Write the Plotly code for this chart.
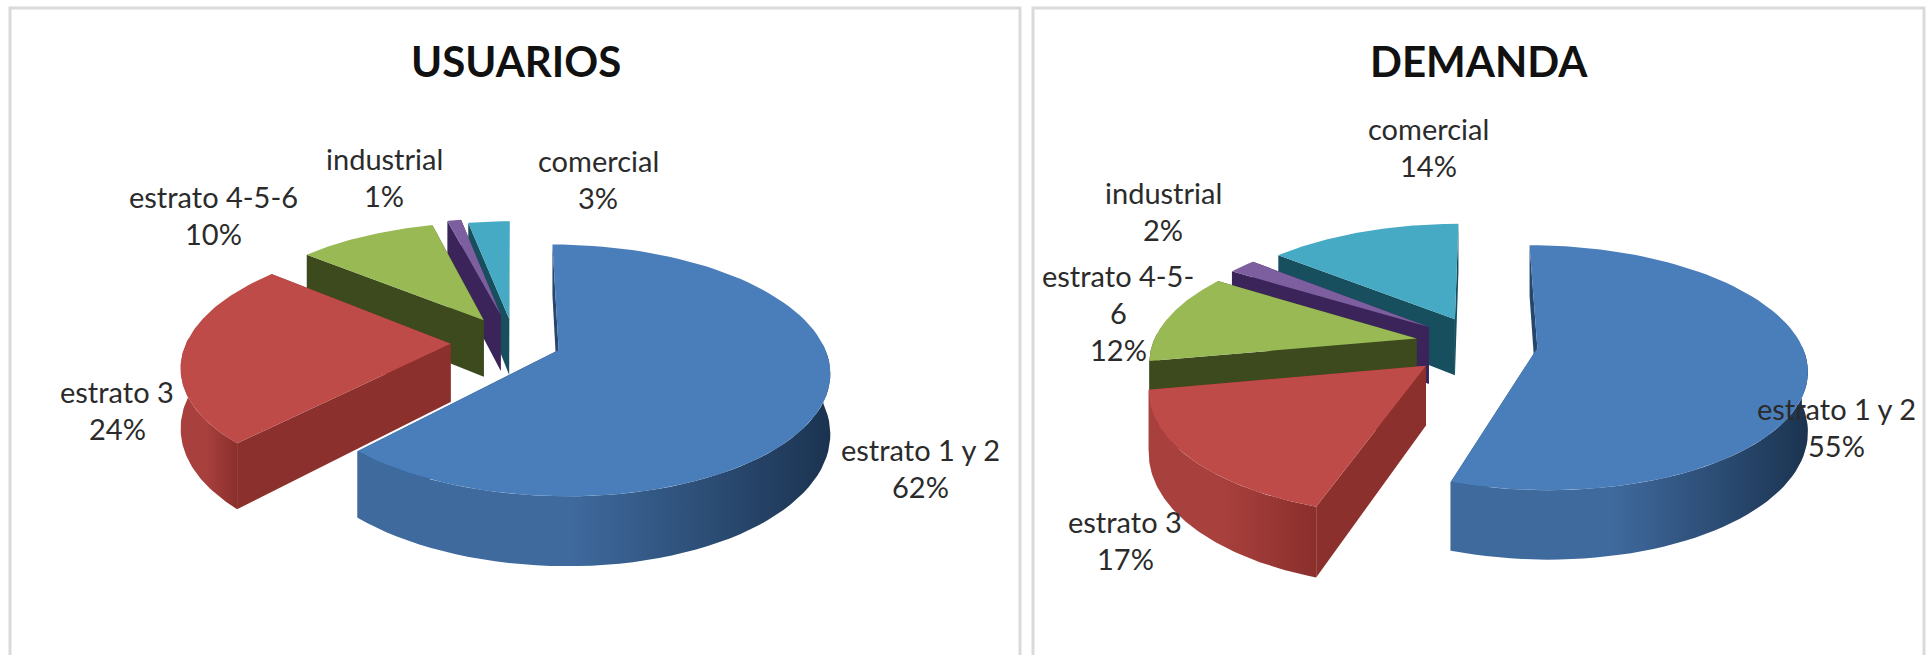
import numpy as np
import plotly.graph_objects as go

categories = ["estrato 1 y 2", "estrato 3", "estrato 4-5-6", "industrial", "comercial"]
usuarios = [62, 24, 10, 1, 3]
demanda = [55, 17, 12, 2, 14]
titles = ["USUARIOS", "DEMANDA"]

TOP = ["#4A7EBB", "#BE4B48", "#98B954", "#7D5FA0", "#46AAC5"]
WALL = ["#27466E", "#8C302D", "#3C4A1E", "#3A2459", "#174F5F"]
OUTER_L = ["#3F6A9E", "#A8403D", "#3C4A1E", "#4F3A70", "#2A7A90"]
OUTER_R = ["#1B3350", "#8A2F2C", "#3C4A1E", "#3A2459", "#174F5F"]

FONT = "Lato"
W, H = 1927, 655


def project(X, Y, z, g):
    d = 1 + g["k"] * Y
    return g["cx"] + g["B"] * X / d, g["cy"] - g["A"] * Y / d + z * g["depth"] / d


def slice_parts(start, stop, pull, g):
    m = (start + stop) / 2
    ox, oy = pull * np.sin(m), pull * np.cos(m)
    a = np.linspace(start, stop, 90)
    rimx, rimy = ox + np.sin(a), oy + np.cos(a)
    tx, ty = project(np.r_[ox, rimx], np.r_[oy, rimy], 0, g)
    parts = []
    for ang in (start, stop):
        ex, ey = ox + np.sin(ang), oy + np.cos(ang)
        px = np.array([ox, ex, ex, ox])
        py = np.array([oy, ey, ey, oy])
        sx, sy = project(px, py, np.array([0, 0, 1, 1]), g)
        parts.append(("wall", sx, sy))
    vis = np.cos(a) <= 0.05
    if vis.any():
        ax, ay = rimx[vis], rimy[vis]
        x0, y0 = project(ax, ay, 0, g)
        x1, y1 = project(ax, ay, 1, g)
        parts.append(("outer", np.r_[x0, x1[::-1]], np.r_[y0, y1[::-1]]))
    parts.append(("top", tx, ty))
    return parts


def add_pie(fig, values, g, pulls, order):
    v = np.array(values, float)
    edges = np.r_[0, np.cumsum(v)] / v.sum() * 2 * np.pi
    for i in order:
        for kind, x, y in slice_parts(edges[i], edges[i + 1], pulls[i], g):
            kw = dict(x=np.r_[x, x[0]], y=np.r_[y, y[0]], mode="lines", fill="toself",
                      line=dict(width=0), hoverinfo="skip", showlegend=False, name=categories[i])
            if kind == "top":
                kw["fillcolor"] = TOP[i]
            elif kind == "wall":
                kw["fillcolor"] = WALL[i]
            else:
                kw["fillcolor"] = OUTER_R[i]
                kw["fillgradient"] = dict(type="horizontal",
                                          colorscale=[[0, OUTER_L[i]], [0.45, OUTER_L[i]], [1, OUTER_R[i]]])
            fig.add_trace(go.Scatter(**kw))


fig = go.Figure()
geo_l = dict(cx=514, cy=342, A=120, B=264, k=0.16, depth=58)
geo_r = dict(cx=1481, cy=344, A=118, B=264, k=0.16, depth=58)
add_pie(fig, usuarios, geo_l, [0.18, 0.24, 0.22, 0.24, 0.2], [4, 3, 2, 1, 0])
add_pie(fig, demanda, geo_r, [0.215, 0.27, 0.25, 0.25, 0.24], [4, 3, 2, 1, 0])

frames = [(10, 1020), (1033, 1924)]
shapes = [dict(type="path", xref="x", yref="y",
               path=f"M{a},{H + 5} L{a},8 L{b},8 L{b},{H + 5}",
               line=dict(color="#DADADA", width=3)) for a, b in frames]

line_gap = 37
labels = [
    (920, 468, categories[0], usuarios[0]), (117, 410, categories[1], usuarios[1]),
    (213, 215, categories[2], usuarios[2]), (384, 177, categories[3], usuarios[3]),
    (598, 179, categories[4], usuarios[4]),
    (1836, 427, categories[0], demanda[0]), (1125, 540, categories[1], demanda[1]),
    (1118, 312, "estrato 4-5-|6", demanda[2]), (1163, 211, categories[3], demanda[3]),
    (1428, 147, categories[4], demanda[4]),
]
ann = []
for x, y, name, val in labels:
    rows = name.split("|") + [f"{val}%"]
    y0 = y - line_gap * (len(rows) - 1) / 2
    for j, row in enumerate(rows):
        ann.append(dict(x=x, y=y0 + j * line_gap, text=row, showarrow=False, xanchor="center", yanchor="middle",
                        font=dict(family=FONT, size=29, color="#2B2B2B")))
for x, t in zip((516, 1479), titles):
    ann.append(dict(x=x, y=61, text=f"<b>{t}</b>", showarrow=False, xanchor="center", yanchor="middle",
                    font=dict(family=FONT, size=42, color="#111111")))

fig.update_layout(width=W, height=H, margin=dict(l=0, r=0, t=0, b=0), paper_bgcolor="white",
                  plot_bgcolor="white", showlegend=False, shapes=shapes, annotations=ann,
                  xaxis=dict(range=[0, W], visible=False, fixedrange=True),
                  yaxis=dict(range=[H, 0], visible=False, fixedrange=True))
fig.write_html("out.html", config=dict(displayModeBar=False),
               post_script="document.body.style.margin='0';document.body.style.overflow='hidden';")
